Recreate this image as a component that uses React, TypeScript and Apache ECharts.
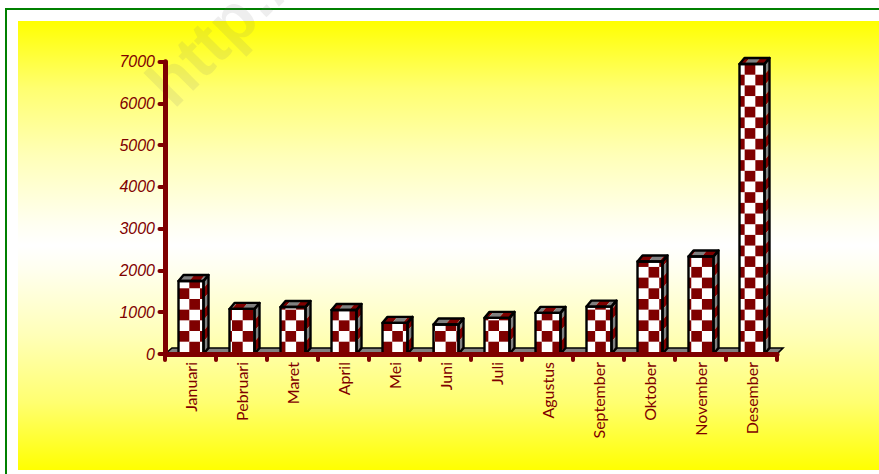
import React, { useEffect, useRef } from "react";
import * as echarts from "echarts";

const months = ["Januari", "Pebruari", "Maret", "April", "Mei", "Juni", "Juli", "Agustus", "September", "Oktober", "November", "Desember"];
const values = [1750, 1080, 1125, 1055, 745, 705, 865, 985, 1135, 2215, 2335, 6945];
const yTicks = { min: 0, max: 7000, interval: 1000 };

const DARK = "#7f0000";
const GREY = "#808080";
const CELL = 10.68;
const ORIGIN_X = 189.3;
const ORIGIN_Y = 288.3;
const DX = 5;
const DY = 6;
const BAR_W = 25;

const isDark = (col: number, row: number) => ((col + row) % 2 + 2) % 2 === 1;

function renderBar(_params: any, api: any) {
  const x = api.coord([api.value(0), 0])[0];
  const yTop = api.coord([api.value(0), api.value(1)])[1];
  const y0 = api.coord([api.value(0), 0])[1];
  const left = x - BAR_W / 2 + 0.5;
  const right = left + BAR_W;
  const children: any[] = [];

  children.push({ type: "rect", shape: { x: left, y: yTop, width: BAR_W, height: y0 - yTop }, style: { fill: "#fff" } });

  const c0 = Math.floor((left - ORIGIN_X) / CELL);
  const c1 = Math.floor((right - ORIGIN_X) / CELL);
  const r0 = Math.floor((yTop - ORIGIN_Y) / CELL);
  const r1 = Math.floor((y0 - ORIGIN_Y) / CELL);
  for (let r = r0; r <= r1; r++) {
    const ya = Math.max(yTop, ORIGIN_Y + r * CELL);
    const yb = Math.min(y0, ORIGIN_Y + (r + 1) * CELL);
    for (let c = c0; c <= c1; c++) {
      if (!isDark(c, r)) continue;
      const xa = Math.max(left, ORIGIN_X + c * CELL);
      const xb = Math.min(right, ORIGIN_X + (c + 1) * CELL);
      children.push({ type: "rect", shape: { x: xa, y: ya, width: xb - xa, height: yb - ya }, style: { fill: DARK } });
    }
    children.push({
      type: "polygon",
      shape: { points: [[right, ya], [right + DX, ya - DY], [right + DX, yb - DY], [right, yb]] },
      style: { fill: isDark(c1, r) ? DARK : GREY },
    });
  }
  for (let c = c0; c <= c1; c++) {
    const xa = Math.max(left, ORIGIN_X + c * CELL);
    const xb = Math.min(right, ORIGIN_X + (c + 1) * CELL);
    children.push({
      type: "polygon",
      shape: { points: [[xa, yTop], [xb, yTop], [xb + DX, yTop - DY], [xa + DX, yTop - DY]] },
      style: { fill: isDark(c, r0) ? DARK : GREY },
    });
  }
  const outline = { fill: "none", stroke: "#000", lineWidth: 2.4, lineJoin: "round" };
  children.push({ type: "rect", shape: { x: left, y: yTop, width: BAR_W, height: y0 - yTop }, style: outline });
  children.push({
    type: "polygon",
    shape: { points: [[left, yTop], [left + DX, yTop - DY], [right + DX, yTop - DY], [right, yTop]] },
    style: outline,
  });
  children.push({
    type: "polygon",
    shape: { points: [[right, yTop], [right + DX, yTop - DY], [right + DX, y0 - DY], [right, y0]] },
    style: outline,
  });
  return { type: "group", children };
}

function renderFloor(params: any) {
  const cs = params.coordSys;
  const l = cs.x;
  const r = cs.x + cs.width;
  const b = cs.y + cs.height;
  return {
    type: "polygon",
    shape: { points: [[l, b], [l + DX + 2, b - 6], [r + DX + 1, b - 6], [r, b]] },
    style: { fill: GREY, stroke: "#000", lineWidth: 1.6 },
  };
}

export default function App() {
  const ref = useRef<HTMLDivElement>(null);
  useEffect(() => {
    document.body.style.margin = "0";
    const chart = echarts.init(ref.current!, null, { renderer: "svg" });
    chart.setOption({
      animation: false,
      graphic: [
        {
          type: "rect", z: -10, silent: true,
          shape: { x: 18, y: 21, width: 861, height: 449 },
          style: {
            fill: new echarts.graphic.LinearGradient(0, 0, 0, 1, [
              { offset: 0, color: "#ffff00" },
              { offset: 0.15, color: "#ffff70" },
              { offset: 0.3, color: "#ffffb8" },
              { offset: 0.45, color: "#fffff0" },
              { offset: 0.5, color: "#ffffff" },
              { offset: 0.55, color: "#fffff0" },
              { offset: 0.7, color: "#ffffb8" },
              { offset: 0.85, color: "#ffff70" },
              { offset: 1, color: "#ffff00" },
            ]),
          },
        },
        { type: "rect", z: -9, silent: true, shape: { x: 5, y: 8, width: 874, height: 2 }, style: { fill: "#008000" } },
        { type: "rect", z: -9, silent: true, shape: { x: 5, y: 8, width: 2, height: 466 }, style: { fill: "#008000" } },
        {
          type: "text", z: -8, silent: true, x: 181, y: 117, rotation: Math.PI / 4,
          style: {
            text: "http://",
            fontFamily: "Liberation Sans",
            fontWeight: "bold",
            fontSize: 66,
            fill: "rgba(120,120,120,0.13)",
            textVerticalAlign: "bottom",
          },
        },
      ],
      grid: { left: 165, right: 102, top: 61.7, bottom: 120, containLabel: false },
      xAxis: {
        type: "category",
        data: months,
        z: 5,
        axisLine: { lineStyle: { color: DARK, width: 5, cap: "round" } },
        axisTick: { show: true, length: 6, lineStyle: { color: DARK, width: 4, cap: "round" } },
        axisLabel: { rotate: 90, interval: 0, color: DARK, fontFamily: "Lato", fontSize: 16, margin: 8 },
      },
      yAxis: {
        type: "value",
        ...yTicks,
        z: 5,
        splitLine: { show: false },
        axisLine: { show: true, lineStyle: { color: DARK, width: 5, cap: "round" } },
        axisTick: { show: true, length: 5.5, lineStyle: { color: DARK, width: 4, cap: "round" } },
        axisLabel: {
          color: DARK,
          fontFamily: "Liberation Sans",
          fontStyle: "italic",
          fontSize: 16,
          margin: 10,
          formatter: (v: number) => String(v),
        },
      },
      series: [
        { type: "custom", z: 1, silent: true, data: [0], renderItem: renderFloor, encode: { x: 0, y: 0 }, clip: false },
        {
          type: "custom",
          z: 2,
          silent: true,
          data: values.map((v, i) => [i, v]),
          encode: { x: 0, y: 1 },
          renderItem: renderBar,
          clip: false,
        },
      ],
    });
    return () => chart.dispose();
  }, []);
  return <div ref={ref} style={{ width: 879, height: 474, background: "#fff" }} />;
}
